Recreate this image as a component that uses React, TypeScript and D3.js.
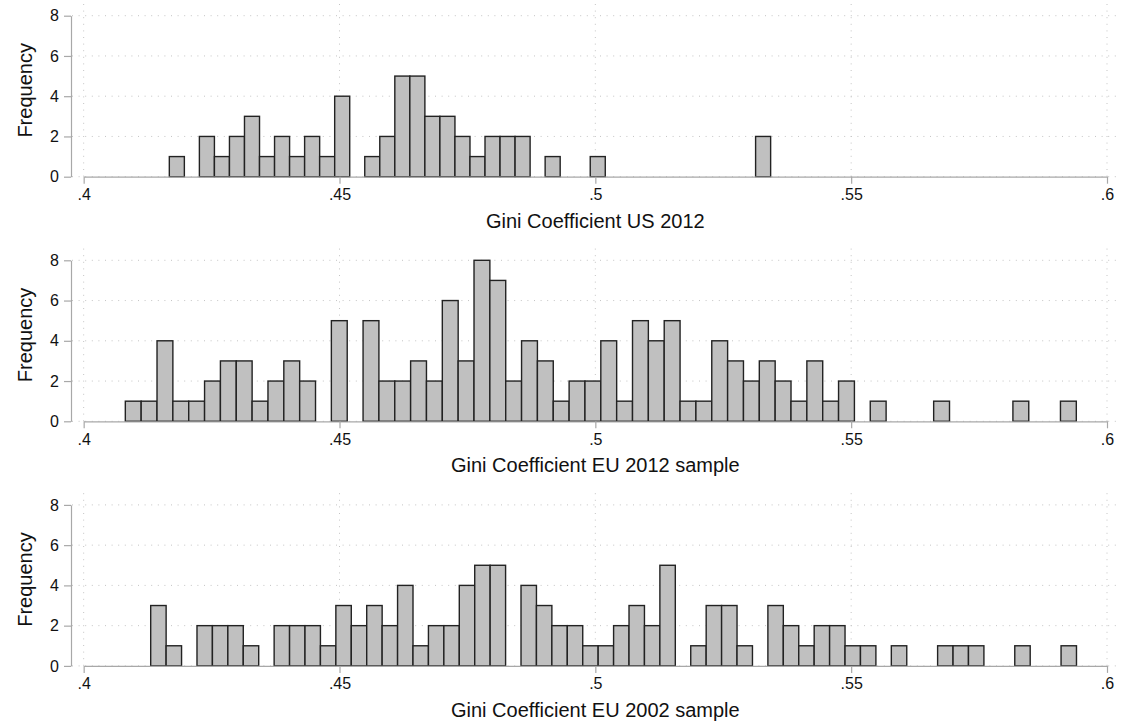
import React, { useEffect, useRef } from "react";
import * as d3 from "d3";

// histogram bins: start of first bin, bin width, counts per bin
const usStart = 0.41674;
const usBinWidth = 0.002938;
const usCounts = [
  1, 0, 2, 1, 2, 3, 1, 2, 1, 2, 1, 4, 0, 1, 2, 5, 5, 3, 3, 2,
  1, 2, 2, 2, 0, 1, 0, 0, 1, 0, 0, 0, 0, 0, 0, 0, 0, 0, 0, 2,
];

const eu2012Start = 0.40814;
const eu2012BinWidth = 0.0030977;
const eu2012Counts = [
  1, 1, 4, 1, 1, 2, 3, 3, 1, 2, 3, 2, 0, 5, 0, 5, 2, 2, 3, 2,
  6, 3, 8, 7, 2, 4, 3, 1, 2, 2, 4, 1, 5, 4, 5, 1, 1, 4, 3, 2,
  3, 2, 1, 3, 1, 2, 0, 1, 0, 0, 0, 1, 0, 0, 0, 0, 1, 0, 0, 1,
];

const eu2002Start = 0.4131;
const eu2002BinWidth = 0.0030156;
const eu2002Counts = [
  3, 1, 0, 2, 2, 2, 1, 0, 2, 2, 2, 1, 3, 2, 3, 2, 4, 1, 2, 2,
  4, 5, 5, 0, 4, 3, 2, 2, 1, 1, 2, 3, 2, 5, 0, 1, 3, 3, 1, 0,
  3, 2, 1, 2, 2, 1, 1, 0, 1, 0, 0, 1, 1, 1, 0, 0, 1, 0, 0, 1,
];

const panelTitles = [
  "Gini Coefficient US 2012",
  "Gini Coefficient EU 2012 sample",
  "Gini Coefficient EU 2002 sample",
];

const xTickValues = [0.4, 0.45, 0.5, 0.55, 0.6];
const xTickLabels = [".4", ".45", ".5", ".55", ".6"];
const yTickValues = [0, 2, 4, 6, 8];
const yLabel = "Frequency";

const FONT = "'Liberation Sans', Arial, Helvetica, sans-serif";
const WIDTH = 1130;
const HEIGHT = 721;

const App = () => {
  const svgRef = useRef<SVGSVGElement | null>(null);

  useEffect(() => {
    if (!svgRef.current) return;
    const svg = d3.select(svgRef.current);
    svg.selectAll("*").remove();

    const panels = [
      { start: usStart, width: usBinWidth, counts: usCounts, title: panelTitles[0] },
      { start: eu2012Start, width: eu2012BinWidth, counts: eu2012Counts, title: panelTitles[1] },
      { start: eu2002Start, width: eu2002BinWidth, counts: eu2002Counts, title: panelTitles[2] },
    ];

    const step = 244.6;
    const axisX = 71;
    const regionRight = 1118;

    const x = d3.scaleLinear().domain([0.4, 0.6]).range([83.67, 1107]);

    panels.forEach((p, i) => {
      const off = i * step;
      const y = d3.scaleLinear().domain([0, 8]).range([176.7 + off, 15.7 + off]);
      const regionTop = 4 + off;
      const g = svg.append("g");

      // grid
      g.append("g")
        .selectAll("line")
        .data(yTickValues)
        .join("line")
        .attr("x1", axisX + 1)
        .attr("x2", regionRight)
        .attr("y1", (d) => y(d))
        .attr("y2", (d) => y(d))
        .attr("stroke", "#c4c4c4")
        .attr("stroke-width", 1)
        .attr("stroke-dasharray", "1,5.6");
      g.append("g")
        .selectAll("line")
        .data(xTickValues)
        .join("line")
        .attr("x1", (d) => x(d))
        .attr("x2", (d) => x(d))
        .attr("y1", regionTop)
        .attr("y2", y(0))
        .attr("stroke", "#c4c4c4")
        .attr("stroke-width", 1)
        .attr("stroke-dasharray", "1,5.6");

      // bars
      const bins = p.counts.map((c, k) => ({
        x0: p.start + k * p.width,
        x1: p.start + (k + 1) * p.width,
        n: c,
      }));
      g.append("g")
        .selectAll("rect")
        .data(bins.filter((b) => b.n > 0))
        .join("rect")
        .attr("x", (d) => x(d.x0))
        .attr("width", (d) => x(d.x1) - x(d.x0))
        .attr("y", (d) => y(d.n))
        .attr("height", (d) => y(0) - y(d.n))
        .attr("fill", "#c0c0c0")
        .attr("stroke", "#222")
        .attr("stroke-width", 1.4);

      // y axis
      const ya = g
        .append("g")
        .attr("transform", `translate(${axisX},0)`)
        .call(
          d3.axisLeft(y).tickValues(yTickValues).tickFormat(d3.format("d")).tickSize(7).tickSizeOuter(0).tickPadding(5)
        );
      // x axis
      const xa = g
        .append("g")
        .attr("transform", `translate(0,${y(0)})`)
        .call(
          d3
            .axisBottom(x)
            .tickValues(xTickValues)
            .tickFormat((_, k) => xTickLabels[k])
            .tickSize(7)
            .tickSizeOuter(0)
            .tickPadding(5)
        );
      [ya, xa].forEach((a) => {
        a.select(".domain").attr("stroke", "#a8a8a8").attr("stroke-width", 1.2);
        a.selectAll(".tick line").attr("stroke", "#a8a8a8").attr("stroke-width", 1.2);
        a.selectAll(".tick text")
          .attr("fill", "#111")
          .style("font-family", FONT)
          .style("font-size", "16px");
      });

      // titles
      g.append("text")
        .attr("transform", `translate(31.7,${(regionTop + y(0)) / 2}) rotate(-90)`)
        .attr("text-anchor", "middle")
        .style("font-family", FONT)
        .style("font-size", "20px")
        .attr("fill", "#111")
        .text(yLabel);
      g.append("text")
        .attr("x", (x(0.4) + x(0.6)) / 2)
        .attr("y", y(0) + 51)
        .attr("text-anchor", "middle")
        .style("font-family", FONT)
        .style("font-size", "20px")
        .attr("fill", "#111")
        .text(p.title);
    });
  }, []);

  return (
    <div style={{ position: "absolute", left: 0, top: 0, background: "#fff" }}>
      <svg ref={svgRef} width={WIDTH} height={HEIGHT} style={{ display: "block" }} />
    </div>
  );
};

export default App;
